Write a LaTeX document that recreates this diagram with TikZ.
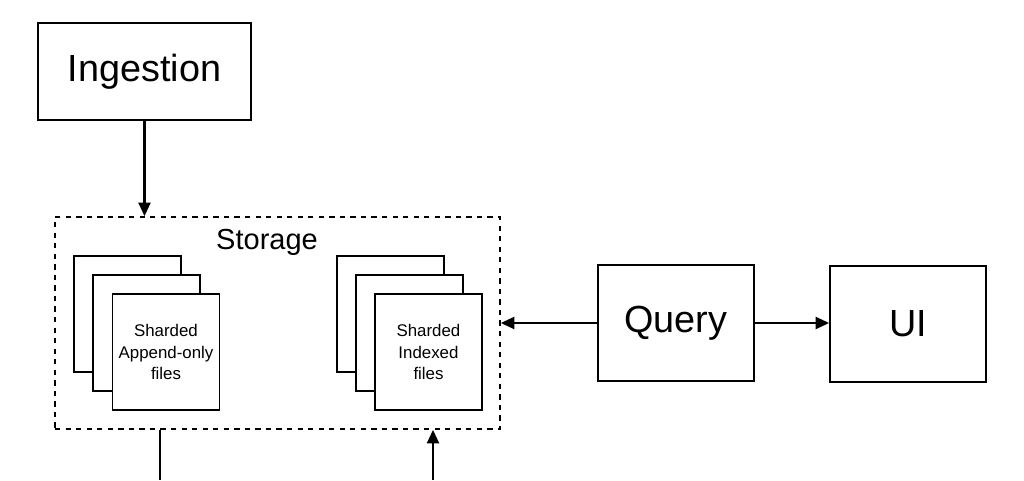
\documentclass[tikz,border=0pt]{standalone}
\usepackage{fontspec}
\setmainfont{Liberation Sans}
\usepackage{tikz}
\usetikzlibrary{arrows.meta}

\tikzset{
  block/.style={draw, line width=1pt, minimum width=3.12cm, minimum height=2.32cm,
    font=\fontsize{21.5}{26}\selectfont},
  shard/.style={draw, fill=white, line width=1pt, minimum width=2.14cm, minimum height=2.32cm,
    align=center, font=\fontsize{9.6}{12}\selectfont},
  conn/.style={line width=1.2pt, -{Triangle[length=0.27cm, width=0.24cm]}}
}

\begin{document}
\begin{tikzpicture}[x=0.02cm, y=-0.02cm]
  \useasboundingbox (0,0) rectangle (1024,480);
  % Ingestion oben
  \node[block, minimum width=4.26cm, minimum height=1.94cm] (ingest) at (144.5,71.5) {Ingestion};
  % Storage-ramme
  \node[draw, dashed, line width=1pt, minimum width=8.9cm, minimum height=4.24cm] (storage) at (277.5,323) {};
  \node[font=\fontsize{16.5}{20}\selectfont] (storlabel) at (267,242) {Storage};
  % Shards, venstre stabel
  \node[shard] (apA) at (127.5,314) {};
  \node[shard] (apB) at (146.5,333) {};
  \node[shard] (apC) at (166,352) {Sharded\\Append-only\\files};
  % Shards, hoeyre stabel
  \node[shard] (ixA) at (390.5,314) {};
  \node[shard] (ixB) at (409.5,333) {};
  \node[shard] (ixC) at (428.5,352) {Sharded\\Indexed\\files};
  % Query og UI
  \node[block] (query) at (676,323) {Query};
  \node[block] (ui) at (908,324) {UI};
  % Piler
  \draw[conn] (ingest.south) -- (ingest.south |- storage.north);
  \draw[conn, {Triangle[length=0.27cm, width=0.24cm]}-] (storage.east) -- (storage.east -| query.west);
  \draw[conn] (query.east) -- (query.east -| ui.west);
  % Linjer ut nederst
  \coordinate (outA) at (160,480);
  \coordinate (inB) at (433,480);
  \draw[line width=1.2pt] (outA |- storage.south) -- (outA);
  \draw[conn] (inB) -- (inB |- storage.south);
\end{tikzpicture}
\end{document}
